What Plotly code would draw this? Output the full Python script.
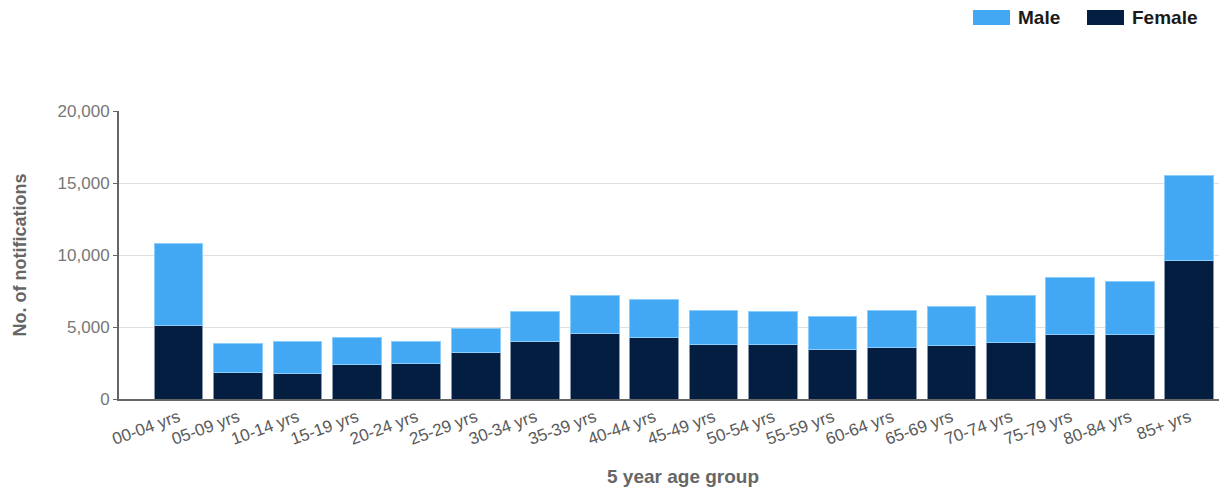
import plotly.graph_objects as go

# Notifications by 5-year age group, split by sex
age_groups = ["00-04 yrs", "05-09 yrs", "10-14 yrs", "15-19 yrs", "20-24 yrs",
              "25-29 yrs", "30-34 yrs", "35-39 yrs", "40-44 yrs", "45-49 yrs",
              "50-54 yrs", "55-59 yrs", "60-64 yrs", "65-69 yrs", "70-74 yrs",
              "75-79 yrs", "80-84 yrs", "85+ yrs"]
female = [5100, 1820, 1750, 2380, 2470, 3200, 4010, 4550, 4270, 3810,
          3810, 3460, 3560, 3740, 3920, 4460, 4460, 9620]
male = [5700, 2010, 2240, 1890, 1530, 1730, 2070, 2640, 2620, 2360,
        2270, 2250, 2610, 2710, 3250, 3960, 3680, 5880]

male_color = "#42A8F4"
female_color = "#041E42"
FONT = "Liberation Sans, Arial, sans-serif"

fig = go.Figure()
fig.add_trace(go.Bar(x=age_groups, y=female, name="Female",
                     marker=dict(color=female_color, line=dict(color="#8a97ab", width=1))))
fig.add_trace(go.Bar(x=age_groups, y=male, name="Male",
                     marker=dict(color=male_color, line=dict(color="#8ccdfb", width=1))))

fig.update_layout(
    barmode="stack",
    bargap=0.18,
    width=1231, height=488,
    margin=dict(l=119, r=12, t=111, b=89),
    plot_bgcolor="white", paper_bgcolor="white",
    showlegend=False,
    font=dict(family=FONT),
)

fig.update_xaxes(
    type="category",
    range=[-1.0, 17.5],
    tickangle=-20,
    tickfont=dict(family=FONT, size=17, color="#5a5a5a"),
    showline=True, linecolor="#666666", linewidth=2,
    showgrid=False, ticks="",
)
fig.update_yaxes(
    range=[0, 20000],
    tickvals=[0, 5000, 10000, 15000, 20000],
    tickformat=",d",
    tickfont=dict(family=FONT, size=17, color="#777777"),
    showline=True, linecolor="#666666", linewidth=2,
    ticks="outside", ticklen=4, tickcolor="#666666",
    showgrid=True, gridcolor="#e0e0e0", gridwidth=1,
    zeroline=False,
    title=dict(text="<b>No. of notifications</b>", font=dict(family=FONT, size=18, color="#666666"), standoff=26),
)

# Pixel positions converted to paper coords
plot_w, plot_h = 1231 - 119 - 12, 488 - 111 - 89


def px_to_paper_x(px):
    return (px - 119) / plot_w


def py_to_paper_y(py):
    return (488 - 89 - py) / plot_h


# x-axis title
fig.add_annotation(xref="paper", yref="paper",
                   x=px_to_paper_x(683), y=py_to_paper_y(476),
                   text="<b>5 year age group</b>", showarrow=False,
                   xanchor="center", yanchor="middle",
                   font=dict(family=FONT, size=19, color="#666666"))

# Legend entries at the top right
legend_items = [("Male", male_color, 973), ("Female", female_color, 1087)]
for label, color, px in legend_items:
    fig.add_shape(type="rect", xref="paper", yref="paper",
                  x0=px_to_paper_x(px), x1=px_to_paper_x(px + 37),
                  y0=py_to_paper_y(25), y1=py_to_paper_y(10),
                  fillcolor=color, line=dict(width=0), layer="above")
    fig.add_annotation(xref="paper", yref="paper",
                       x=px_to_paper_x(px + 43), y=py_to_paper_y(17.5),
                       text=f"<b>{label}</b>", showarrow=False, xanchor="left", yanchor="middle",
                       font=dict(family=FONT, size=19, color="#1a1a1a"))

fig.write_html("out.html")
